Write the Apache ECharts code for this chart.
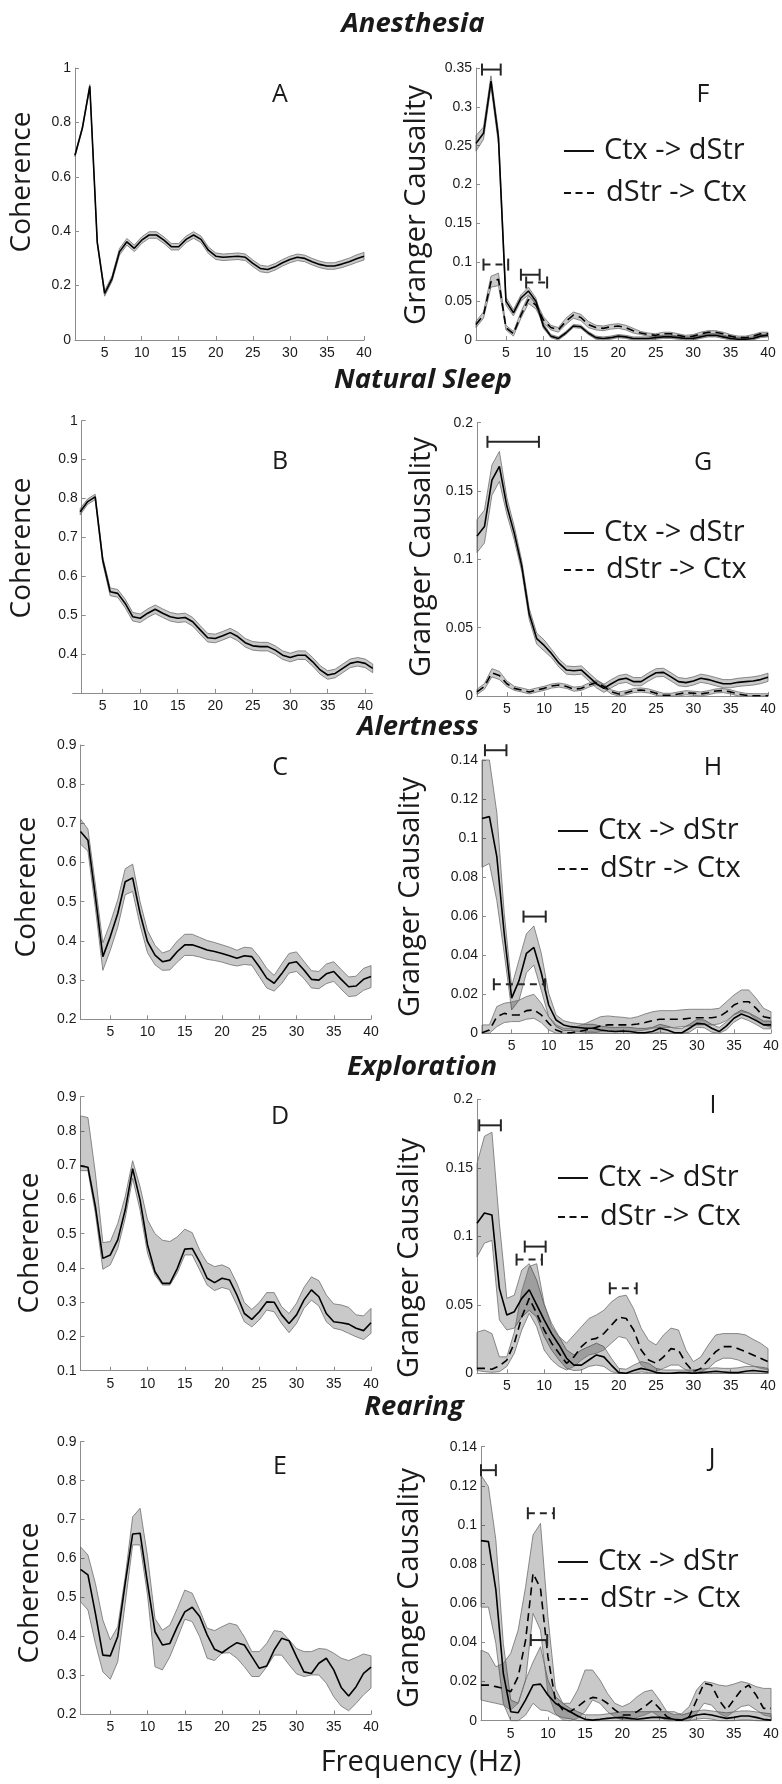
<!DOCTYPE html>
<html><head><meta charset="utf-8">
<script src="https://cdn.jsdelivr.net/npm/echarts@6/dist/echarts.min.js"></script>
<style>html,body{margin:0;padding:0;background:#fff}#c{width:782px;height:1784px}</style>
</head><body><div id="c"></div><script>
// ---------- data ----------
const freq = [1,2,3,4,5,6,7,8,9,10,11,12,13,14,15,16,17,18,19,20,21,22,23,24,25,26,27,28,29,30,31,32,33,34,35,36,37,38,39,40];
const freqB = [2,3,4,5,6,7,8,9,10,11,12,13,14,15,16,17,18,19,20,21,22,23,24,25,26,27,28,29,30,31,32,33,34,35,36,37,38,39,40,41];
const xTickValues = [5,10,15,20,25,30,35,40];

// Coherence panels
const A_mean = [0.679,0.780,0.933,0.360,0.171,0.226,0.324,0.361,0.337,0.367,0.386,0.386,0.367,0.343,0.343,0.370,0.386,0.370,0.330,0.308,0.304,0.306,0.308,0.304,0.282,0.263,0.259,0.269,0.284,0.296,0.304,0.300,0.288,0.278,0.272,0.272,0.279,0.288,0.299,0.308];
const A_err = [0.005,0.006,0.006,0.006,0.010,0.010,0.012,0.012,0.012,0.012,0.012,0.012,0.012,0.012,0.012,0.012,0.012,0.012,0.012,0.012,0.012,0.012,0.012,0.012,0.012,0.012,0.012,0.012,0.012,0.012,0.012,0.012,0.012,0.012,0.012,0.012,0.013,0.013,0.014,0.014];
const B_mean = [0.766,0.792,0.804,0.642,0.560,0.556,0.530,0.496,0.492,0.505,0.515,0.505,0.496,0.492,0.494,0.483,0.462,0.442,0.440,0.447,0.455,0.445,0.429,0.421,0.419,0.419,0.410,0.397,0.391,0.397,0.397,0.380,0.359,0.346,0.350,0.363,0.376,0.380,0.376,0.363];
const B_err = [0.008,0.007,0.007,0.008,0.010,0.010,0.011,0.011,0.011,0.011,0.011,0.011,0.011,0.011,0.011,0.011,0.011,0.011,0.011,0.011,0.011,0.011,0.011,0.011,0.011,0.011,0.011,0.011,0.011,0.011,0.011,0.011,0.011,0.011,0.011,0.011,0.011,0.011,0.011,0.011];
const C_mean = [0.679,0.657,0.513,0.360,0.411,0.470,0.551,0.561,0.470,0.398,0.364,0.347,0.351,0.373,0.390,0.390,0.384,0.377,0.373,0.368,0.362,0.356,0.362,0.360,0.334,0.305,0.292,0.316,0.343,0.347,0.326,0.302,0.300,0.316,0.322,0.302,0.283,0.285,0.302,0.309];
const C_err = [0.032,0.028,0.030,0.035,0.035,0.035,0.033,0.035,0.030,0.028,0.025,0.022,0.025,0.027,0.027,0.027,0.025,0.024,0.023,0.022,0.022,0.020,0.022,0.022,0.025,0.025,0.020,0.025,0.025,0.025,0.022,0.022,0.022,0.025,0.025,0.025,0.025,0.025,0.028,0.028];
const D_mean = [0.698,0.694,0.579,0.428,0.438,0.482,0.569,0.690,0.598,0.467,0.389,0.355,0.355,0.399,0.455,0.457,0.418,0.370,0.357,0.370,0.365,0.321,0.267,0.250,0.272,0.301,0.300,0.263,0.238,0.263,0.306,0.336,0.316,0.267,0.243,0.240,0.236,0.224,0.217,0.240];
const D_hi = [0.844,0.839,0.676,0.474,0.477,0.530,0.608,0.713,0.637,0.540,0.500,0.481,0.477,0.491,0.513,0.503,0.452,0.415,0.404,0.409,0.399,0.355,0.299,0.279,0.299,0.328,0.328,0.287,0.267,0.297,0.343,0.374,0.363,0.321,0.295,0.292,0.285,0.263,0.260,0.282];
const D_lo = [0.684,0.684,0.559,0.396,0.409,0.457,0.545,0.662,0.569,0.443,0.379,0.350,0.350,0.386,0.438,0.438,0.394,0.350,0.334,0.343,0.337,0.292,0.243,0.228,0.248,0.277,0.272,0.238,0.211,0.238,0.282,0.306,0.289,0.243,0.224,0.219,0.209,0.199,0.191,0.209];
const E_mean = [0.572,0.558,0.459,0.352,0.350,0.400,0.536,0.663,0.665,0.536,0.412,0.378,0.382,0.425,0.463,0.475,0.451,0.404,0.367,0.358,0.372,0.384,0.378,0.348,0.318,0.324,0.365,0.395,0.389,0.348,0.309,0.305,0.331,0.344,0.314,0.269,0.247,0.271,0.305,0.321];
const E_hi = [0.630,0.609,0.536,0.442,0.391,0.425,0.553,0.707,0.729,0.605,0.446,0.416,0.429,0.472,0.519,0.511,0.468,0.421,0.415,0.425,0.434,0.429,0.399,0.361,0.361,0.382,0.415,0.412,0.391,0.369,0.361,0.361,0.369,0.367,0.357,0.344,0.338,0.346,0.355,0.350];
const E_lo = [0.489,0.468,0.382,0.309,0.290,0.335,0.485,0.635,0.635,0.506,0.322,0.314,0.348,0.395,0.444,0.438,0.399,0.344,0.338,0.357,0.358,0.344,0.322,0.297,0.297,0.322,0.352,0.352,0.327,0.304,0.297,0.301,0.301,0.280,0.245,0.221,0.209,0.228,0.250,0.267];

// Granger panels (ctx = Ctx -> dStr, solid; str = dStr -> Ctx, dashed)
const F_ctx_mean = [0.253,0.266,0.333,0.260,0.050,0.035,0.054,0.063,0.050,0.018,0.005,0.002,0.009,0.018,0.017,0.009,0.003,0.002,0.003,0.005,0.004,0.002,0.002,0.002,0.003,0.004,0.004,0.003,0.002,0.002,0.004,0.006,0.006,0.004,0.002,0.001,0.001,0.002,0.005,0.006];
const F_ctx_err = [0.010,0.008,0.007,0.008,0.005,0.004,0.004,0.005,0.004,0.003,0.002,0.002,0.002,0.002,0.002,0.002,0.002,0.002,0.002,0.002,0.002,0.002,0.002,0.002,0.002,0.002,0.002,0.002,0.002,0.002,0.002,0.002,0.002,0.002,0.002,0.002,0.002,0.002,0.002,0.002];
const F_str_mean = [0.020,0.032,0.075,0.078,0.016,0.008,0.032,0.052,0.045,0.026,0.016,0.013,0.024,0.032,0.029,0.020,0.016,0.015,0.017,0.018,0.016,0.012,0.009,0.007,0.006,0.008,0.008,0.006,0.004,0.005,0.008,0.010,0.010,0.008,0.005,0.003,0.003,0.005,0.008,0.008];
const F_str_err = [0.004,0.004,0.007,0.008,0.003,0.003,0.004,0.005,0.005,0.004,0.003,0.003,0.004,0.004,0.004,0.004,0.003,0.003,0.003,0.003,0.003,0.003,0.002,0.002,0.002,0.002,0.002,0.002,0.002,0.002,0.002,0.002,0.002,0.002,0.002,0.002,0.002,0.002,0.002,0.002];
const G_ctx_mean = [0.117,0.124,0.158,0.168,0.139,0.119,0.095,0.060,0.042,0.037,0.031,0.024,0.019,0.0185,0.019,0.014,0.009,0.0056,0.009,0.012,0.013,0.0105,0.0105,0.014,0.017,0.0173,0.014,0.0105,0.0098,0.011,0.013,0.012,0.0105,0.009,0.009,0.010,0.0105,0.011,0.012,0.0137];
const G_ctx_err = [0.012,0.012,0.011,0.011,0.006,0.005,0.004,0.004,0.004,0.004,0.003,0.003,0.003,0.003,0.003,0.003,0.003,0.003,0.003,0.003,0.003,0.003,0.003,0.003,0.003,0.003,0.003,0.003,0.003,0.003,0.003,0.003,0.003,0.003,0.003,0.003,0.003,0.003,0.003,0.003];
const G_str_mean = [0.003,0.007,0.017,0.015,0.009,0.0056,0.0044,0.003,0.0044,0.0056,0.0073,0.008,0.007,0.005,0.0056,0.008,0.0098,0.007,0.003,0.0015,0.0024,0.004,0.0044,0.0037,0.002,0.0005,0.0005,0.0015,0.0024,0.002,0.0015,0.0024,0.0037,0.004,0.003,0.0015,0.0005,0.0002,0.0002,0.0002];
const G_str_err = [0.002,0.002,0.003,0.003,0.002,0.0015,0.0015,0.0015,0.0015,0.0015,0.0015,0.0015,0.0015,0.0015,0.0015,0.0015,0.0015,0.0015,0.0015,0.0015,0.0015,0.0015,0.0015,0.0015,0.0015,0.0015,0.0015,0.0015,0.0015,0.0015,0.0015,0.0015,0.0015,0.0015,0.0015,0.0015,0.0015,0.0015,0.0015,0.0015];
const H_ctx_mean = [0.110,0.111,0.0905,0.051,0.018,0.027,0.041,0.044,0.031,0.0145,0.0068,0.0043,0.0034,0.003,0.0026,0.0026,0.0017,0.0012,0.0009,0.0012,0.0009,0.0003,0.0003,0.0009,0.0026,0.0017,0.0003,0.0003,0.0026,0.0051,0.0048,0.0026,0.0009,0.0038,0.0077,0.0099,0.0085,0.0065,0.0043,0.0043];
const H_ctx_hi = [0.140,0.140,0.113,0.0615,0.024,0.0376,0.051,0.055,0.041,0.0205,0.0094,0.0065,0.0055,0.005,0.0046,0.0046,0.0037,0.0032,0.003,0.0032,0.003,0.0025,0.0025,0.003,0.0046,0.0037,0.0025,0.0025,0.0046,0.0071,0.0068,0.0046,0.003,0.0058,0.0097,0.0119,0.0105,0.0085,0.0063,0.0063];
const H_ctx_lo = [0.085,0.087,0.068,0.041,0.012,0.017,0.031,0.035,0.022,0.0085,0.0034,0.0014,0.0014,0.001,0.0006,0.0006,0,0,0,0,0,0,0,0,0.0006,0,0,0,0.0006,0.0031,0.0028,0.0006,0,0.0018,0.0057,0.0079,0.0065,0.0045,0.0023,0.0023];
const H_str_mean = [0.0003,0.0017,0.0085,0.0102,0.0094,0.0094,0.0116,0.012,0.0094,0.0051,0.0017,0.0003,0.0003,0.0009,0.0017,0.0026,0.0038,0.0043,0.0043,0.0043,0.0043,0.0048,0.0055,0.0065,0.0072,0.0072,0.0072,0.0072,0.0077,0.008,0.008,0.008,0.0085,0.011,0.0145,0.0162,0.0162,0.0128,0.0085,0.0077];
const H_str_hi = [0.0043,0.0043,0.0137,0.0154,0.016,0.017,0.0188,0.02,0.0154,0.0085,0.0043,0.0026,0.0026,0.0038,0.0051,0.0068,0.0085,0.0089,0.0085,0.0082,0.0077,0.0085,0.0099,0.011,0.0116,0.0116,0.0116,0.012,0.0123,0.0123,0.0123,0.0123,0.0128,0.0162,0.0196,0.0222,0.0222,0.0179,0.0128,0.011];
const H_str_lo = [0,0,0.0034,0.0055,0.006,0.006,0.0072,0.0077,0.0055,0.0017,0,0,0,0,0,0.0003,0.0009,0.0014,0.0009,0.0009,0.0009,0.0012,0.0017,0.0026,0.003,0.003,0.003,0.0034,0.0038,0.0043,0.0043,0.0043,0.0048,0.0065,0.0094,0.011,0.0102,0.0072,0.0043,0.003];
const I_ctx_mean = [0.1095,0.117,0.1156,0.062,0.0426,0.045,0.0547,0.061,0.05,0.039,0.029,0.0207,0.011,0.006,0.006,0.0097,0.0134,0.012,0.006,0.0005,0,0.002,0.0036,0.0024,0.0005,0,0,0.0005,0.0005,0,0.0005,0.001,0.0015,0.001,0.0005,0.0005,0.0015,0.002,0.0015,0.001];
const I_ctx_hi = [0.153,0.173,0.176,0.1095,0.0547,0.057,0.0754,0.080,0.068,0.05,0.0365,0.0268,0.017,0.0134,0.017,0.0195,0.022,0.0195,0.011,0.0036,0.003,0.006,0.0085,0.0073,0.0036,0.0024,0.0024,0.0024,0.0024,0.0024,0.003,0.0036,0.004,0.0036,0.0036,0.004,0.005,0.005,0.0045,0.0036];
const I_ctx_lo = [0.085,0.095,0.097,0.039,0.0316,0.033,0.041,0.046,0.041,0.0268,0.017,0.0097,0.0036,0.002,0.0024,0.005,0.006,0.005,0.0012,0,0,0,0.001,0.0005,0,0,0,0,0,0,0,0,0,0,0,0,0,0,0,0];
const I_str_mean = [0.0036,0.0036,0.003,0.0054,0.0097,0.022,0.041,0.0547,0.0438,0.0316,0.022,0.0146,0.0073,0.012,0.0195,0.0243,0.0255,0.029,0.035,0.041,0.040,0.0316,0.017,0.0097,0.0073,0.012,0.018,0.017,0.0073,0.0012,0.0036,0.0097,0.0158,0.0195,0.0195,0.018,0.0158,0.0134,0.011,0.0085];
const I_str_hi = [0.030,0.0316,0.029,0.012,0.012,0.03,0.06,0.078,0.080,0.051,0.034,0.0268,0.022,0.028,0.034,0.040,0.0426,0.046,0.052,0.056,0.057,0.047,0.033,0.024,0.0207,0.028,0.033,0.0316,0.017,0.0085,0.012,0.0207,0.028,0.029,0.029,0.029,0.028,0.0248,0.022,0.018];
const I_str_lo = [0.002,0.0012,0.0007,0.0012,0.005,0.0146,0.0316,0.0438,0.034,0.017,0.0097,0.005,0.0024,0.005,0.0097,0.0134,0.0146,0.017,0.022,0.0268,0.0255,0.017,0.006,0.0024,0.0012,0.0036,0.006,0.006,0.0024,0,0.0012,0.0036,0.0085,0.011,0.011,0.0097,0.0073,0.0054,0.0036,0.0024];
const J_ctx_mean = [0.092,0.0915,0.0668,0.0242,0.0046,0.0041,0.0106,0.0182,0.0187,0.0131,0.0089,0.0066,0.0046,0.0024,0.0007,0.0003,0.0007,0.0012,0.0015,0.0017,0.0012,0.0007,0.0012,0.0017,0.0017,0.0012,0.0007,0.0003,0.0017,0.0029,0.0034,0.0029,0.002,0.0012,0.0017,0.0024,0.0024,0.0017,0.0007,0.0003];
const J_ctx_hi = [0.1255,0.1196,0.0923,0.0395,0.0106,0.0089,0.0208,0.030,0.0378,0.0208,0.0123,0.0089,0.0063,0.0046,0.003,0.003,0.003,0.0035,0.004,0.0046,0.0046,0.0046,0.0046,0.0046,0.0046,0.0046,0.0046,0.0029,0.004,0.005,0.0055,0.005,0.0045,0.004,0.0045,0.005,0.005,0.0045,0.004,0.0035];
const J_ctx_lo = [0.058,0.058,0.0395,0.0089,0,0,0.0029,0.0089,0.0055,0.005,0.003,0.0015,0.001,0,0,0,0,0,0,0,0,0,0,0,0,0,0,0,0,0.0008,0.0012,0.0008,0,0,0,0.0004,0.0004,0,0,0];
const J_str_mean = [0.0182,0.0182,0.0174,0.0165,0.0148,0.0225,0.0412,0.0753,0.0676,0.0327,0.0106,0.0055,0.0046,0.0072,0.0102,0.0119,0.0114,0.0089,0.0055,0.0029,0.0029,0.0046,0.0072,0.0102,0.0063,0.002,0.0003,0.0003,0.002,0.0106,0.0191,0.0182,0.0106,0.0055,0.0106,0.0157,0.0182,0.0131,0.0063,0.0063];
const J_str_hi = [0.0361,0.0344,0.0276,0.0293,0.0344,0.0463,0.0685,0.0949,0.1008,0.0531,0.0165,0.0089,0.0089,0.0157,0.0259,0.0259,0.0208,0.014,0.0089,0.0072,0.0089,0.0123,0.0148,0.0157,0.0106,0.0046,0.003,0.0037,0.0072,0.0157,0.02,0.0194,0.0182,0.0177,0.0187,0.02,0.0191,0.0174,0.0165,0.0165];
const J_str_lo = [0.0106,0.0097,0.0089,0.008,0.0055,0.0089,0.0208,0.0548,0.0463,0.014,0.0037,0.0003,0,0.0012,0.0046,0.0106,0.0089,0.0046,0.002,0.0003,0.0003,0.0017,0.0029,0.0046,0.002,0,0,0,0,0.0037,0.0089,0.008,0.0037,0.002,0.0046,0.0072,0.008,0.0055,0.0029,0.002];

// significance brackets: [fromHz, toHz, level, dashed(1)/solid(0)]
const F_brackets = [[1.8,4.3,0.348,0],[2.0,5.3,0.097,1],[7.0,9.5,0.084,0],[7.7,10.5,0.074,1]];
const G_brackets = [[2.4,9.3,0.186,0]];
const H_brackets = [[1.4,4.3,0.145,0],[6.6,9.6,0.0598,0],[2.6,9.5,0.0251,1]];
const I_brackets = [[1.3,4.2,0.181,0],[7.4,10.2,0.0925,0],[6.3,9.7,0.083,1],[18.8,22.4,0.062,1]];
const J_brackets = [[1.0,3.0,0.128,0],[7.3,10.8,0.106,1],[7.7,9.9,0.0412,0]];

const rowTitles = ['Anesthesia','Natural Sleep','Alertness','Exploration','Rearing'];
const panelLetters = ['A','F','B','G','C','H','D','I','E','J'];
const legendLabels = ['Ctx -> dStr','dStr -> Ctx'];

// ---------- layout / styling ----------
const panels = [
  {g:[75,68,289,272], x:[1,40], y:[0,1,0.2], s:[{x:freq,mean:A_mean,err:A_err}]},
  {g:[476,68,292,272], x:[1,40], y:[0,0.35,0.05], s:[{x:freq,mean:F_ctx_mean,err:F_ctx_err},{x:freq,mean:F_str_mean,err:F_str_err,dash:true}], br:F_brackets},
  {g:[72.7,420.7,300,272.2], x:[1,41], y:[0.3,1,0.1], yOff:-9, hideMin:true, s:[{x:freqB,mean:B_mean,err:B_err}]},
  {g:[477,422.7,291,273.3], x:[1,40], y:[0,0.2,0.05], s:[{x:freq,mean:G_ctx_mean,err:G_ctx_err},{x:freq,mean:G_str_mean,err:G_str_err,dash:true}], br:G_brackets},
  {g:[80.5,745,290.5,274.3], x:[1,40], y:[0.2,0.9,0.1], s:[{x:freq,mean:C_mean,err:C_err}]},
  {g:[482,760,289,273.3], x:[1,40], y:[0,0.14,0.02], s:[{x:freq,mean:H_ctx_mean,lo:H_ctx_lo,hi:H_ctx_hi},{x:freq,mean:H_str_mean,lo:H_str_lo,hi:H_str_hi,dash:true}], br:H_brackets},
  {g:[80.5,1096.7,290.5,274], x:[1,40], y:[0.1,0.9,0.1], s:[{x:freq,mean:D_mean,lo:D_lo,hi:D_hi}]},
  {g:[477,1099.3,291,274], x:[1,40], y:[0,0.2,0.05], s:[{x:freq,mean:I_ctx_mean,lo:I_ctx_lo,hi:I_ctx_hi},{x:freq,mean:I_str_mean,lo:I_str_lo,hi:I_str_hi,dash:true}], br:I_brackets},
  {g:[80.5,1441.7,290.5,272.6], x:[1,40], y:[0.2,0.9,0.1], s:[{x:freq,mean:E_mean,lo:E_lo,hi:E_hi}]},
  {g:[481,1446.7,290,274], x:[1,40], y:[0,0.14,0.02], s:[{x:freq,mean:J_ctx_mean,lo:J_ctx_lo,hi:J_ctx_hi},{x:freq,mean:J_str_mean,lo:J_str_lo,hi:J_str_hi,dash:true}], br:J_brackets}
];
const titlePos = [[413,24],[423,380],[418,727],[422,1067],[414,1407]];
const letterPos = [[280,95],[703,95],[280,462],[703,463],[280,768],[713,768],[280,1117],[713,1106],[280,1467],[712,1459]];
const namePos = [[22,182],[417,205],[22,548],[422,557],[27,887],[411,897],[30,1243],[410,1258],[30,1593],[410,1588]];
const legendPos = [null,[564,594,151,193,604],null,[564,594,533,570,604],null,[558,588,831,869,598],null,[558,588,1178,1217,598],null,[558,588,1562,1599,598]];

const AX = '#8c8c8c', TXT = '#1a1a1a';
const TICKFONT = 'Liberation Sans, Arial, sans-serif';
const HUM = '"Open Sans", "Noto Sans", sans-serif';

const grid = [], xAxis = [], yAxis = [], series = [], graphic = [];
panels.forEach((p, i) => {
  grid.push({left:p.g[0], top:p.g[1], width:p.g[2], height:p.g[3], containLabel:false, outerBoundsMode:'none'});
  xAxis.push({type:'value', gridIndex:i, min:p.x[0], max:p.x[1],
    axisLine:{show:true, onZero:false, lineStyle:{color:AX, width:1}},
    axisTick:{show:true, inside:true, length:4, customValues:xTickValues, lineStyle:{color:AX}},
    axisLabel:{customValues:xTickValues, margin:6, fontFamily:TICKFONT, fontSize:14, color:TXT},
    splitLine:{show:false}});
  yAxis.push({type:'value', gridIndex:i, min:p.y[0], max:p.y[1], interval:p.y[2], offset:p.yOff || 0,
    axisLine:{show:true, onZero:false, lineStyle:{color:AX, width:1}},
    axisTick:{show:true, inside:true, length:4, lineStyle:{color:AX}},
    axisLabel:{margin:4, fontFamily:TICKFONT, fontSize:14, color:TXT,
      formatter: v => (p.hideMin && Math.abs(v - p.y[0]) < 1e-9) ? '' : String(+v.toFixed(4))},
    splitLine:{show:false}});
  const ymin = p.y[0];
  p.s.forEach(s => {
    series.push({type:'custom', xAxisIndex:i, yAxisIndex:i, silent:true, z:1,
      data:[[s.x[0], s.mean[0]]],
      renderItem:(params, api) => {
        const pts = [];
        for (let k = 0; k < s.x.length; k++) {
          const hi = s.hi ? s.hi[k] : s.mean[k] + s.err[k];
          pts.push(api.coord([s.x[k], hi]));
        }
        for (let k = s.x.length - 1; k >= 0; k--) {
          const lo = s.lo ? s.lo[k] : Math.max(ymin, s.mean[k] - s.err[k]);
          pts.push(api.coord([s.x[k], lo]));
        }
        return {type:'polygon', shape:{points:pts}, style:{fill:'rgba(0,0,0,0.21)', stroke:'#6f6f6f', lineWidth:0.8}};
      }});
  });
  p.s.forEach(s => {
    series.push({type:'line', xAxisIndex:i, yAxisIndex:i, silent:true, z:3,
      data:s.x.map((f, k) => [f, s.mean[k]]), symbol:'none', showSymbol:false,
      lineStyle:{color:'#000', width:1.6, type: s.dash ? [8,5] : 'solid'}});
  });
  if (p.br) {
    series.push({type:'custom', xAxisIndex:i, yAxisIndex:i, silent:true, z:5, clip:false,
      encode:{x:[0,1], y:2}, data:p.br,
      renderItem:(params, api) => {
        const a = api.coord([api.value(0), api.value(2)]);
        const b = api.coord([api.value(1), api.value(2)]);
        const st = {stroke:'#262626', lineWidth:2};
        const dash = api.value(3) ? [7,5] : null;
        return {type:'group', children:[
          {type:'line', shape:{x1:a[0], y1:a[1], x2:b[0], y2:b[1]}, style:Object.assign({}, st, {lineDash:dash})},
          {type:'line', shape:{x1:a[0], y1:a[1]-6, x2:a[0], y2:a[1]+6}, style:st},
          {type:'line', shape:{x1:b[0], y1:b[1]-6, x2:b[0], y2:b[1]+6}, style:st}
        ]};
      }});
  }
  graphic.push({type:'text', x:letterPos[i][0], y:letterPos[i][1], silent:true,
    style:{text:panelLetters[i], font:'25px ' + HUM, fill:TXT, textAlign:'center', textVerticalAlign:'middle'}});
  graphic.push({type:'text', x:namePos[i][0], y:namePos[i][1], rotation:Math.PI/2, silent:true,
    style:{text: i % 2 === 0 ? 'Coherence' : 'Granger Causality', font:(i % 2 === 0 ? '28px ' : '29px ') + HUM, fill:TXT, textAlign:'center', textVerticalAlign:'middle'}});
  const L = legendPos[i];
  if (L) {
    graphic.push({type:'line', silent:true, shape:{x1:L[0], y1:L[2], x2:L[1], y2:L[2]}, style:{stroke:'#111', lineWidth:2}});
    graphic.push({type:'line', silent:true, shape:{x1:L[0], y1:L[3], x2:L[1], y2:L[3]}, style:{stroke:'#111', lineWidth:2, lineDash:[7,4.5]}});
    graphic.push({type:'text', x:L[4], y:L[2], silent:true, style:{text:legendLabels[0], font:'29px ' + HUM, fill:TXT, textAlign:'left', textVerticalAlign:'middle'}});
    graphic.push({type:'text', x:L[4] + 2, y:L[3], silent:true, style:{text:legendLabels[1], font:'29px ' + HUM, fill:TXT, textAlign:'left', textVerticalAlign:'middle'}});
  }
});
rowTitles.forEach((t, r) => {
  graphic.push({type:'text', x:titlePos[r][0], y:titlePos[r][1], silent:true,
    style:{text:t, font:'italic bold 27.5px ' + HUM, fill:TXT, textAlign:'center', textVerticalAlign:'middle'}});
});
graphic.push({type:'text', x:421, y:1763, silent:true,
  style:{text:'Frequency (Hz)', font:'29px ' + HUM, fill:TXT, textAlign:'center', textVerticalAlign:'middle'}});

const chart = echarts.init(document.getElementById('c'), null, {renderer:'canvas'});
chart.setOption({backgroundColor:'#fff', animation:false, grid, xAxis, yAxis, series, graphic});
</script></body></html>
